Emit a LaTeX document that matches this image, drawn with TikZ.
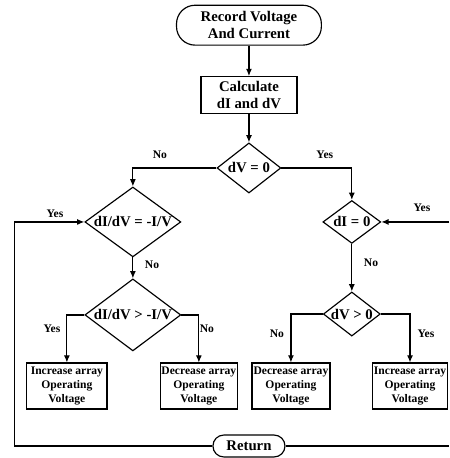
\documentclass[tikz,border=0pt]{standalone}
\usepackage{fontspec}
\setmainfont{Liberation Serif}
\usetikzlibrary{arrows.meta,shapes.geometric}

\begin{document}
\begin{tikzpicture}[line width=1.1pt,
    font=\fontsize{14}{16.5}\selectfont\bfseries,
    term/.style={draw,align=center,inner sep=0pt},
    stepbox/.style={draw,align=center,inner sep=2pt},
    test/.style={draw,diamond,align=center,inner sep=0pt},
    actbox/.style={draw,align=center,inner sep=1pt,minimum height=1.53cm,
      font=\fontsize{11}{13}\selectfont\bfseries},
    lbl/.style={font=\fontsize{11}{12}\selectfont\bfseries},
    arr/.style={-{Latex[length=2.4mm,width=2mm]}}]
  \useasboundingbox (0,0) rectangle (14.97,15.27);

  % main column
  \node[term,rounded corners=0.62cm,minimum width=4.83cm,minimum height=1.33cm]
    (rec) at (8.30,14.43) {Record Voltage\\And Current};
  \node[stepbox,minimum width=3.2cm,minimum height=1.23cm]
    (calc) at (8.30,12.10) {Calculate\\dI and dV};
  \node[test,aspect=1.28,minimum width=2.13cm,minimum height=1.67cm]
    (dv0) at (8.30,9.67) {dV = 0};

  % left branch
  \node[test,aspect=1.37,minimum width=3.2cm,minimum height=2.33cm]
    (d1) at (4.43,7.87) {dI/dV = -I/V};
  \node[test,aspect=1.33,minimum width=3.2cm,minimum height=2.40cm]
    (d2) at (4.43,4.77) {dI/dV > -I/V};

  % right branch
  \node[test,aspect=1.35,minimum width=1.93cm,minimum height=1.43cm]
    (di0) at (11.73,7.87) {dI = 0};
  \node[test,aspect=1.3,minimum width=1.90cm,minimum height=1.47cm]
    (dvp) at (11.73,4.80) {dV > 0};

  % actions
  \foreach \n/\x/\w/\t in {incL/2.23/2.67/{Increase array},
      decL/6.63/2.57/{Decrease array},
      decR/9.70/2.60/{Decrease array},
      incR/13.67/2.47/{Increase array}}{%
    \node[actbox,minimum width=\w cm] (\n) at (\x,2.40) {\t\\Operating\\Voltage};
  }

  \node[term,rounded corners=0.36cm,minimum width=2.4cm,minimum height=0.73cm]
    (ret) at (8.30,0.40) {Return};
  \coordinate (lp) at (0.47,0.40);
  \coordinate (rp) at (14.97,0.40);
  \coordinate (rq) at (14.97,7.87);

  % connectors
  \draw[arr] (rec) -- (calc);
  \draw[arr] (calc) -- (dv0);
  \draw[arr] (dv0.west) -| (d1.north);
  \draw[arr] (dv0.east) -| (di0.north);
  \draw[arr] (d1) -- (d2);
  \draw[arr] (d2.west) -| (incL.north);
  \draw[arr] (d2.east) -| (decL.north);
  \draw[arr] (di0) -- (dvp);
  \draw[arr] (dvp.west) -| (decR.north);
  \draw[arr] (dvp.east) -| (incR.north);
  \draw[arr] (ret.west) -- (lp) |- (d1.west);
  \draw (ret.east) -- (rp);
  \draw[arr] (rq) -- (di0.east);

  % branch labels
  \foreach \x/\y/\t [count=\i] in {5.33/10.10/No, 10.83/10.10/Yes,
      1.83/8.13/Yes, 5.07/6.43/No, 1.73/4.30/Yes, 6.90/4.30/No,
      14.07/8.33/Yes, 12.37/6.50/No, 9.23/4.13/No, 14.20/4.13/Yes}{%
    \node[lbl] (lab\i) at (\x,\y) {\t};
  }
\end{tikzpicture}
\end{document}
